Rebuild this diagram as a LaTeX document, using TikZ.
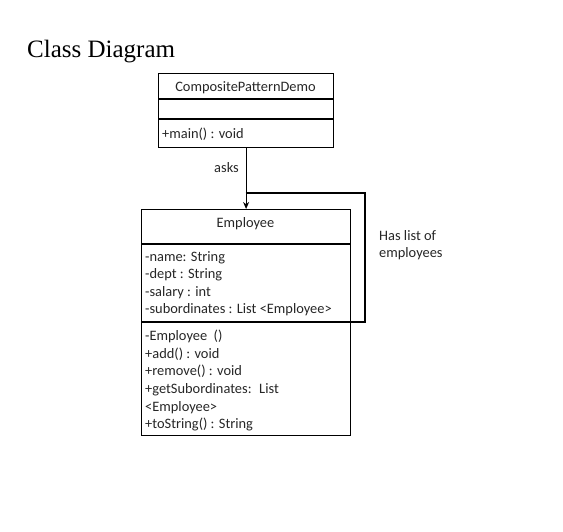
\documentclass[tikz,border=0pt]{standalone}
\usepackage{fontspec}
\setmainfont{Carlito}
\newfontfamily\titlefont{Liberation Serif}
\usetikzlibrary{arrows.meta}
\begin{document}
\begin{tikzpicture}[x=1pt,y=-1pt,
  box/.style={draw, line width=1.2pt, anchor=north west, inner sep=0pt},
  txt/.style={font=\fontsize{14.4}{17.6}\selectfont, text=black!85, inner sep=0pt},
  lines/.style={txt, align=left, anchor=north west},
  conn/.style={line width=1.2pt}]
\useasboundingbox (0,0) rectangle (563,532);
\node[anchor=base west, font=\titlefont\fontsize{25}{28}\selectfont, inner sep=0pt] (title) at (27,58) {Class Diagram};
% CompositePatternDemo
\node[box, minimum width=175, minimum height=74] (demo) at (158,73) {};
\draw[conn] (158,99) -- (333,99);
\draw[conn] (158,119) -- (333,119);
\node[txt] (demoname) at (245.5,87.5) {CompositePatternDemo};
\node[txt, anchor=west] (demomain) at (162,134) {+main() : void};
% Employee
\node[box, minimum width=209, minimum height=226] (emp) at (141,209) {};
\draw[conn] (141,244) -- (350,244);
\draw[conn] (141,322) -- (350,322);
\node[txt] (empname) at (245.5,223.5) {Employee};
\node[lines] (attrs) at (145,251) {-name: String\\-dept : String\\-salary : int\\-subordinates : List <Employee>};
\node[lines] (meths) at (145,330) {-Employee \ ()\\+add() : void\\+remove() : void\\+getSubordinates: \ List\\<Employee>\\+toString() : String};
% connectors
\draw[conn, -{Stealth[length=7pt,width=6pt]}] (demo.south) -- (emp.north);
\node[txt, anchor=east] (asks) at (239,168) {asks};
\coordinate (j) at (245.5,193);
\coordinate (attrend) at (350,322);
\draw[conn] (j) -- (365,193) |- (attrend);
\node[lines, align=left] (has) at (379,230) {Has list of\\employees};
\end{tikzpicture}
\end{document}
